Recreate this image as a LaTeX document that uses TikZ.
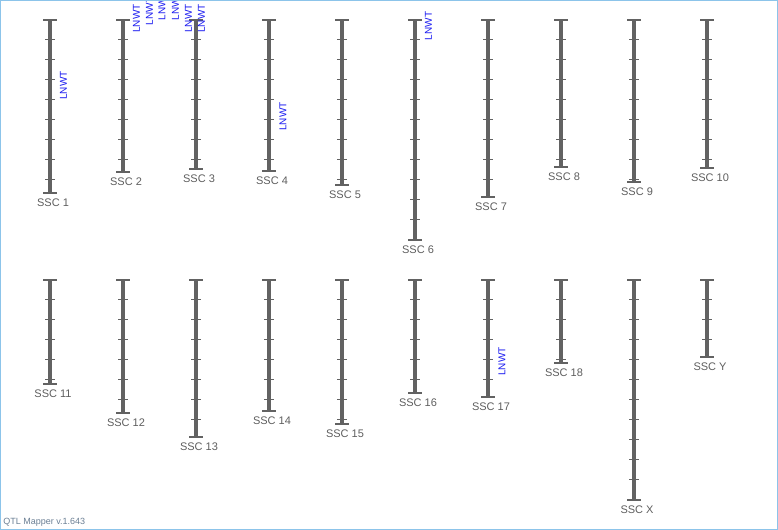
\documentclass[tikz,border=0pt]{standalone}
\usepackage{fontspec}
\setmainfont{Liberation Sans}
\definecolor{barc}{HTML}{626262}
\definecolor{lblc}{HTML}{5E5E5E}
\definecolor{framec}{HTML}{8CC4EA}
\definecolor{qtlc}{HTML}{6B7F94}
\definecolor{lnwtc}{HTML}{1A1AF0}
\tikzset{
  barline/.style={draw=barc, line width=3.4pt},
  capline/.style={draw=barc, line width=1.1pt},
  tickline/.style={draw=barc, line width=0.75pt},
  chrlabel/.style={text=lblc, inner sep=0pt, font=\fontsize{8.25}{9}\selectfont},
  qtllabel/.style={text=lnwtc, inner sep=0pt, rotate=90, font=\fontsize{7.5}{9}\selectfont},
}
\begin{document}
\begin{tikzpicture}[x=0.75pt,y=-0.75pt]
\useasboundingbox (0,0) rectangle (778,530);
\begin{scope}
\clip (0,0) rectangle (778,530);
\foreach \n/\x/\t/\b in {
  1/50/20/193, 2/123/20/172, 3/196/20/169, 4/269/20/171, 5/342/20/185,
  6/415/20/240, 7/488/20/197, 8/561/20/167, 9/634/20/182, 10/707/20/168,
  11/50/280/384, 12/123/280/413, 13/196/280/437, 14/269/280/411, 15/342/280/424,
  16/415/280/393, 17/488/280/397, 18/561/280/363, X/634/280/500, Y/707/280/357}{
  \coordinate (c\n t) at (\x,\t);
  \coordinate (c\n b) at (\x,\b);
  \draw[barline] (c\n t) -- (c\n b);
  \draw[capline] (\x-7,\t) -- (\x+7,\t);
  \draw[capline] (\x-7,\b) -- (\x+7,\b);
  \pgfmathtruncatemacro\nt{floor((\b-\t-0.5)/20)}
  \foreach \k in {1,...,\nt}{
    \draw[tickline] (\x-5,\t+20*\k) -- (\x+5,\t+20*\k);
  }
  \node[chrlabel] (l\n) at (\x+3,\b+10) {SSC \n};
}
\foreach \i/\x/\y in {a/63.5/85.5, b/136.5/18.5, c/149.5/11, d/162/6, e/175.5/6,
  f/188.5/18.5, g/201.5/18.5, h/283/116.5, i/428.5/26, j/502/361.5}{
  \node[qtllabel] (q\i) at (\x,\y) {LNWT};
}
\node[text=qtlc, inner sep=0pt, anchor=west, font=\fontsize{6.75}{8}\selectfont] (ver) at (3,522) {QTL Mapper v.1.643};
\end{scope}
\draw[framec, line width=0.75pt] (0.5,0.5) rectangle (777.5,529.5);
\end{tikzpicture}
\end{document}
